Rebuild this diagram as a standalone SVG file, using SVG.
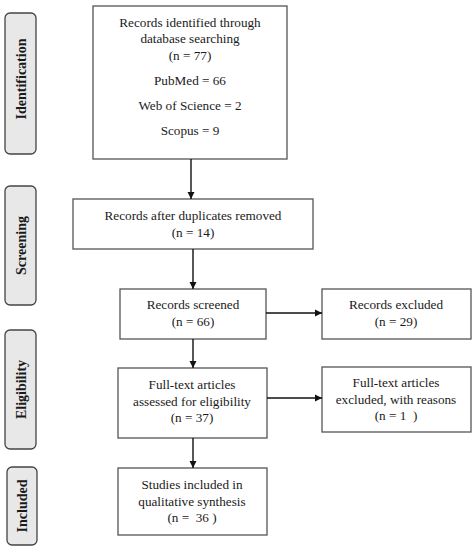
<svg xmlns="http://www.w3.org/2000/svg" width="476" height="550" viewBox="0 0 476 550">
<defs>
<marker id="ah" markerWidth="8" markerHeight="8" refX="7" refY="4" orient="auto" markerUnits="userSpaceOnUse">
<path d="M0,0.5 L7,4 L0,7.5 Z" fill="#111"/>
</marker>
</defs>
<style>
.box{fill:#fff;stroke:#555;stroke-width:1.3}
.side{fill:#e8e8e8;stroke:#444;stroke-width:1.3}
.t{font-family:"Liberation Serif","Times New Roman",serif;font-size:13.2px;fill:#1a1a1a;text-anchor:middle}
.s{font-family:"Liberation Serif","Times New Roman",serif;font-size:14px;font-weight:bold;fill:#1a1a1a;text-anchor:middle}
.c{stroke:#111;stroke-width:1.4;fill:none;marker-end:url(#ah)}
</style>
<rect width="476" height="550" fill="#fff"/>
<g id="side-identification">
<rect class="side" x="5" y="13" width="31" height="141" rx="5"/>
<text class="s" transform="translate(25.5,79) rotate(-90)">Identification</text>
</g>
<g id="side-screening">
<rect class="side" x="5" y="186" width="31" height="119" rx="5"/>
<text class="s" transform="translate(25.5,245.5) rotate(-90)">Screening</text>
</g>
<g id="side-eligibility">
<rect class="side" x="5" y="330" width="31" height="119" rx="5"/>
<text class="s" transform="translate(25.5,389.5) rotate(-90)">Eligibility</text>
</g>
<g id="side-included">
<rect class="side" x="7" y="467" width="30" height="78" rx="5"/>
<text class="s" transform="translate(27,506) rotate(-90)">Included</text>
</g>
<g id="identified">
<rect class="box" x="93" y="6" width="194" height="153"/>
<text class="t" x="190" y="27">Records identified through</text>
<text class="t" x="190" y="43">database searching</text>
<text class="t" x="190" y="60">(n = 77)</text>
<text class="t" x="190" y="85">PubMed = 66</text>
<text class="t" x="190" y="110">Web of Science = 2</text>
<text class="t" x="190" y="135">Scopus = 9</text>
</g>
<g id="duplicates">
<rect class="box" x="73" y="199" width="240" height="50"/>
<text class="t" x="193" y="220">Records after duplicates removed</text>
<text class="t" x="193" y="237">(n = 14)</text>
</g>
<g id="screened">
<rect class="box" x="120" y="289" width="146" height="50"/>
<text class="t" x="193" y="309">Records screened</text>
<text class="t" x="193" y="326">(n = 66)</text>
</g>
<g id="excluded">
<rect class="box" x="322" y="289" width="149" height="50"/>
<text class="t" x="396" y="309">Records excluded</text>
<text class="t" x="396" y="326">(n = 29)</text>
</g>
<g id="fulltext">
<rect class="box" x="118" y="368" width="149" height="70"/>
<text class="t" x="192" y="389">Full-text articles</text>
<text class="t" x="192" y="406">assessed for eligibility</text>
<text class="t" x="192" y="422">(n = 37)</text>
</g>
<g id="fulltext-excluded">
<rect class="box" x="322" y="367" width="149" height="65"/>
<text class="t" x="396" y="387">Full-text articles</text>
<text class="t" x="396" y="404">excluded, with reasons</text>
<text class="t" x="396" y="420" xml:space="preserve">(n = 1  )</text>
</g>
<g id="included">
<rect class="box" x="118" y="468" width="149" height="67"/>
<text class="t" x="192" y="489">Studies included in</text>
<text class="t" x="192" y="506">qualitative synthesis</text>
<text class="t" x="192" y="522" xml:space="preserve">(n =  36 )</text>
</g>
<g id="connectors">
<line class="c" x1="191" y1="159" x2="191" y2="199"/>
<line class="c" x1="193" y1="249" x2="193" y2="289"/>
<line class="c" x1="193" y1="339" x2="193" y2="368"/>
<line class="c" x1="193" y1="438" x2="193" y2="468"/>
<line class="c" x1="266" y1="313" x2="322" y2="313"/>
<line class="c" x1="267" y1="398" x2="322" y2="398"/>
</g>
</svg>
